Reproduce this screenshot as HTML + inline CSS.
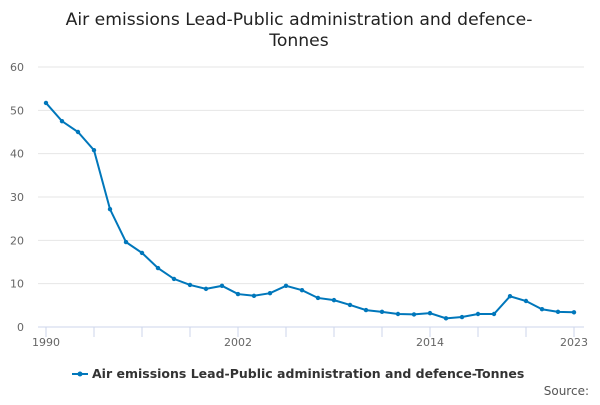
<!DOCTYPE html>
<html><head><meta charset="utf-8"><style>
body{margin:0;background:#fff;font-family:"Liberation Sans","DejaVu Sans",sans-serif}
svg text{font-family:"DejaVu Sans","Liberation Sans",sans-serif}
</style></head><body>
<svg id="c" width="600" height="400">
<text x="299" y="25" text-anchor="middle" font-size="17.2" fill="#222">Air emissions Lead-Public administration and defence-</text>
<text x="299" y="46" text-anchor="middle" font-size="17.2" fill="#222">Tonnes</text>
<g id="grid"></g><g id="xaxis"></g><g id="series"></g>
<g>
<line x1="72" y1="374" x2="88" y2="374" stroke="#0077bb" stroke-width="2"/>
<circle cx="80" cy="374" r="2.5" fill="#0077bb"/>
<text x="92" y="378" font-size="12.5" font-weight="bold" fill="#333">Air emissions Lead-Public administration and defence-Tonnes</text>
</g>
<text x="589" y="395" text-anchor="end" font-size="12" fill="#555">Source:</text>
</svg>
<script>
const years=[1990,1991,1992,1993,1994,1995,1996,1997,1998,1999,2000,2001,2002,2003,2004,2005,2006,2007,2008,2009,2010,2011,2012,2013,2014,2015,2016,2017,2018,2019,2020,2021,2022,2023];
const values=[51.7,47.5,45,40.8,27.2,19.6,17.1,13.6,11.1,9.7,8.8,9.5,7.6,7.2,7.8,9.5,8.5,6.7,6.2,5.1,3.9,3.5,3.0,2.9,3.2,2.0,2.3,3.0,3.0,7.1,6.0,4.1,3.5,3.4];
const yTicks=[0,10,20,30,40,50,60];
const xLabels=[1990,2002,2014,2023];
const NS='http://www.w3.org/2000/svg';
const x=v=>46+(v-1990)*16, y=v=>327-v*260/60;
function mk(t,a,p){const e=document.createElementNS(NS,t);for(const k in a)e.setAttribute(k,a[k]);p.appendChild(e);return e;}
const g=document.getElementById('grid'),xa=document.getElementById('xaxis'),s=document.getElementById('series');
yTicks.forEach(t=>{
 const l=mk('line',{x1:38,x2:584,y1:y(t),y2:y(t),stroke:t?'#e6e6e6':'#ccd6eb'},g);
 
 
 const tx=mk('text',{x:24,y:y(t)+4,'text-anchor':'end','font-size':11,fill:'#666'},g);tx.textContent=t;
 
 
});
for(let yr=1990;yr<=2023;yr+=3){mk('line',{x1:x(yr),x2:x(yr),y1:327,y2:337,stroke:'#ccd6eb'},xa);}
mk('line',{x1:x(2023),x2:x(2023),y1:327,y2:337,stroke:'#ccd6eb'},xa);
xLabels.forEach(yr=>{const t=mk('text',{x:x(yr),y:346,'text-anchor':'middle','font-size':11,fill:'#666'},xa);t.textContent=yr;
 
 });
const p=mk('polyline',{points:years.map((yr,i)=>x(yr)+','+y(values[i])).join(' '),fill:'none',stroke:'#0077bb','stroke-width':2},s);


years.forEach((yr,i)=>{const c=mk('circle',{cx:x(yr),cy:y(values[i]),r:2.2,fill:'#0077bb'},s);
 
 });
</script>
</body></html>
